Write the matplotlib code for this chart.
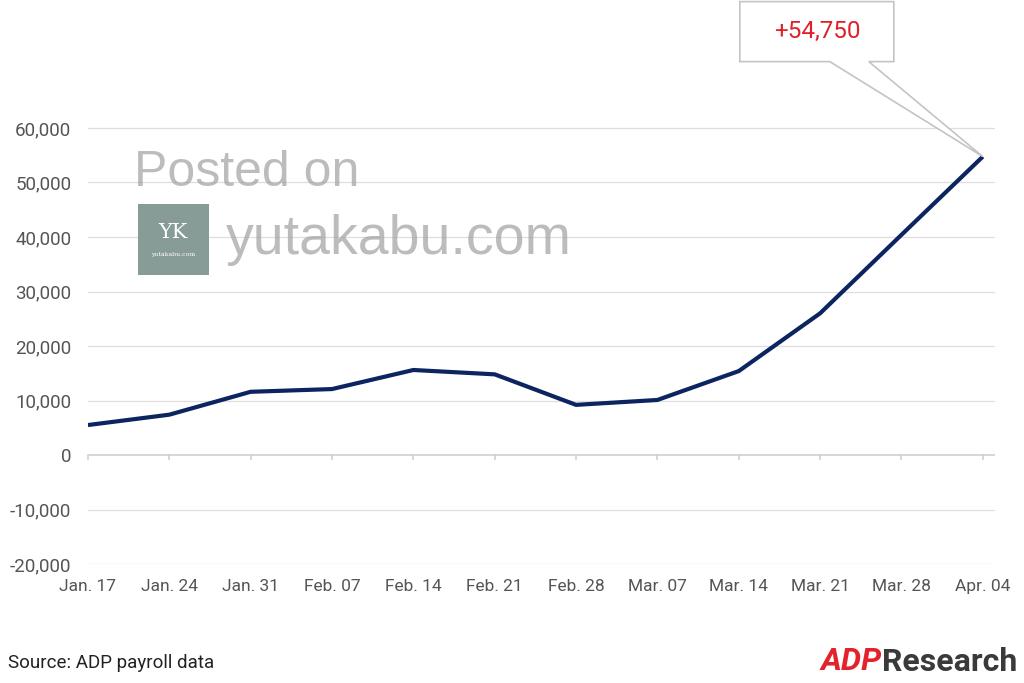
import matplotlib
matplotlib.use("Agg")
import matplotlib.pyplot as plt
import matplotlib.transforms as mtransforms
from matplotlib.patches import Polygon, Rectangle
from matplotlib.ticker import FuncFormatter

plt.rcParams['font.family'] = ['Roboto', 'DejaVu Sans']

# weekly data, ADP pay insights
weeks = ['Jan. 17', 'Jan. 24', 'Jan. 31', 'Feb. 07', 'Feb. 14', 'Feb. 21',
         'Feb. 28', 'Mar. 07', 'Mar. 14', 'Mar. 21', 'Mar. 28', 'Apr. 04']
values = [5500, 7400, 11600, 12100, 15600, 14800,
          9200, 10100, 15400, 26000, 40400, 54750]
yticks = [-20000, -10000, 0, 10000, 20000, 30000, 40000, 50000, 60000]
callout_text = '+54,750'

fig = plt.figure(figsize=(10.24, 6.83), dpi=100)
ax = fig.add_axes([0.0859, 0.1742, 0.8858, 0.7182])

x = list(range(len(weeks)))
ax.plot(x, values, color='#0c2560', linewidth=3.0, solid_capstyle='butt', zorder=3)

ax.set_xlim(0, 11.15)
ax.set_ylim(-20000, 70000)

# gridlines (not at zero, axis line there)
for v in yticks:
    if v != 0:
        ax.axhline(v, color='#dedede', linewidth=0.9, zorder=1)
ax.axhline(0, color='#cfcfcf', linewidth=1.2, zorder=2)
for xi in x:
    ax.plot([xi, xi], [0, -800], color='#cfcfcf', linewidth=1.2, zorder=2, clip_on=False)

for s in ax.spines.values():
    s.set_visible(False)

ax.set_yticks(yticks)
ax.yaxis.set_major_formatter(FuncFormatter(lambda v, p: f'{int(v):,}'))
ax.tick_params(axis='y', length=0, pad=12, labelsize=13.5, labelcolor='#555555')
ax.set_xticks(x)
ax.set_xticklabels(weeks)
ax.tick_params(axis='x', length=0, pad=11, labelsize=12.5, labelcolor='#555555')

# callout box pointing at last value
tip = mtransforms.ScaledTranslation(x[-1], values[-1], ax.transData)
trans = fig.dpi_scale_trans + tip
pts = [(-243, 155), (-89, 155), (-89, 95), (-114, 95), (0, 0), (-153, 95), (-243, 95)]
poly = Polygon([(px / 100, py / 100) for px, py in pts], closed=True,
               facecolor='white', edgecolor='#c4c4c4', linewidth=1.2,
               transform=trans, clip_on=False, zorder=5)
ax.add_patch(poly)
ax.text(-1.66, 1.25, callout_text, transform=trans, ha='center', va='center',
        fontsize=17.5, color='#e0202a', zorder=6)

# watermark
wm = (0.6, 0.6, 0.6, 0.65)
fig.text(0.131, 0.747, 'Posted on', fontsize=36, color=wm, family='Liberation Sans',
         ha='left', va='center')
fig.text(0.221, 0.648, 'yutakabu.com', fontsize=40, color=wm, family='Liberation Sans',
         ha='left', va='center')
logo = Rectangle((0.1348, 0.597), 0.0693, 0.104, transform=fig.transFigure,
                 facecolor='#879b97', edgecolor='none', zorder=4)
fig.patches.append(logo)
fig.text(0.169, 0.659, 'YK', fontsize=15, color='white', family='DejaVu Serif',
         ha='center', va='center', zorder=5)
fig.text(0.169, 0.627, 'yutakabu.com', fontsize=4.5, color='white', family='DejaVu Serif',
         ha='center', va='center', zorder=5)

# footer
fig.text(0.008, 0.029, 'Source: ADP payroll data', fontsize=13.5, color='#222222',
         ha='left', va='center')
fig.text(0.801, 0.031, 'ADP', fontsize=23, color='#e3232b', fontweight='bold',
         style='italic', ha='left', va='center')
fig.text(0.994, 0.031, 'Research', fontsize=23, color='#3a3a3a', fontweight='bold',
         ha='right', va='center')

fig.savefig('out.png', dpi=100, facecolor='white')
